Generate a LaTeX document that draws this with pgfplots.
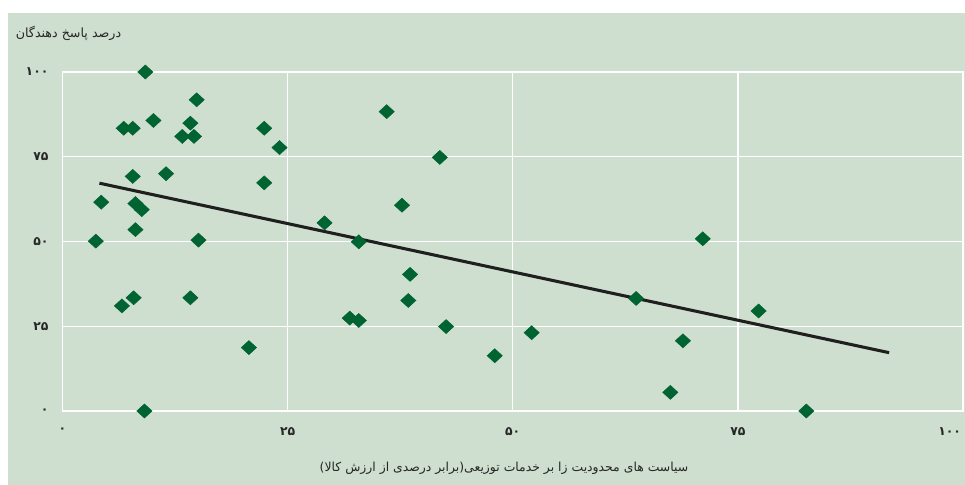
\documentclass[border=0pt]{standalone}
\usepackage{fontspec}
\usepackage{pgfplots}
\pgfplotsset{compat=1.18}
\TeXXeTstate=1
\newfontfamily\fa[Script=Arabic]{DejaVu Sans}
\definecolor{bg}{RGB}{207,223,207}
\definecolor{dgreen}{RGB}{0,100,50}
\pgfplotstableread{
x y
9.2 100
14.9 91.8
10.1 85.7
6.8 83.4
7.8 83.4
14.2 84.9
13.3 81.0
14.6 81.0
22.4 83.4
24.1 77.7
7.8 69.2
11.5 70.0
22.4 67.3
4.3 61.6
8.1 61.2
8.8 59.4
8.1 53.5
3.7 50.1
15.1 50.4
6.6 31.0
7.9 33.4
14.2 33.4
20.7 18.7
9.1 0
36.0 88.3
41.9 74.8
37.7 60.7
29.1 55.5
32.9 49.9
38.6 40.3
38.4 32.6
31.9 27.4
32.9 26.7
42.6 24.9
52.1 23.1
48.0 16.3
71.1 50.8
63.7 33.2
77.3 29.5
68.9 20.7
67.5 5.5
82.6 0
}\pts
\begin{document}
\begin{tikzpicture}
\begin{scope}[x=0.75pt,y=0.75pt]
\fill[white] (-62.5,-74) rectangle (902.5,411);
\fill[bg] (-54.5,-74) rectangle (902.5,398);
\end{scope}
\begin{axis}[at={(0pt,0pt)}, anchor=south west, scale only axis,
 width=675.375pt, height=254.25pt,
 xmin=0, xmax=100, ymin=0, ymax=100,
 xtick={0,25,50,75}, ytick={0,25,50,75,100},
 xticklabels={۰,۲۵,۵۰,۷۵}, yticklabels={۰,۲۵,۵۰,۷۵,۱۰۰},
 extra x ticks={100}, extra x tick labels={۱۰۰},
 extra x tick style={grid=none, xticklabel style={anchor=north east, xshift=2pt}},
 grid=major, grid style={white, line width=1.1pt},
 axis line style={white, line width=1.1pt},
 major tick length=0pt,
 ticklabel style={font=\fa\bfseries\fontsize{9.3}{10}\selectfont, text=black!85},
 xticklabel style={yshift=-9pt},
 yticklabel style={xshift=-7pt},
 clip=false,
]
\addplot[only marks, mark=diamond*, mark size=5.25pt,
  mark options={fill=dgreen, draw=dgreen, xscale=1.45}] table[x=x,y=y] {\pts};
\addplot[color=black!88, line width=2.3pt] coordinates {(4.1,67.2) (91.8,17.2)};
\end{axis}
\begin{scope}[x=0.75pt,y=0.75pt]
\node[font=\fa\fontsize{9.3}{11}\selectfont, text=black!85] at (441.5,-57) {\beginR سیاست های محدودیت زا بر خدمات توزیعی(برابر درصدی از ارزش کالا)\endR};
\node[font=\fa\fontsize{9.5}{11}\selectfont, text=black!85] at (6,378) {\beginR درصد پاسخ دهندگان\endR};
\pgfresetboundingbox
\path[use as bounding box] (-62.5,-74) rectangle (902.5,411);
\end{scope}
\end{tikzpicture}
\end{document}
